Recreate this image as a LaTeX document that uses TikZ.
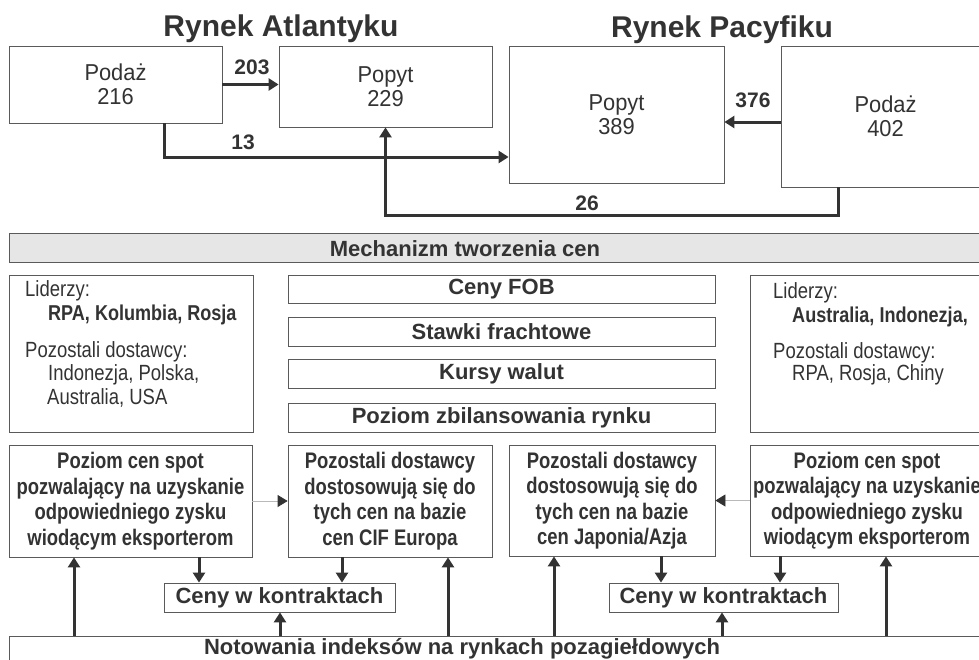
\documentclass[tikz,border=0pt]{standalone}
\usepackage{fontspec}
\setmainfont{Liberation Sans}
\newfontfamily\fN{Liberation Sans}[FakeStretch=0.82]
\newfontfamily\fL{Liberation Sans}[FakeStretch=0.84]
\newfontfamily\fT{Liberation Sans}[FakeStretch=0.95]
\usetikzlibrary{arrows.meta}
\definecolor{ink}{HTML}{333333}
\definecolor{edgec}{HTML}{5A5A5A}
\definecolor{barfill}{HTML}{E6E6E6}
\begin{document}
\begin{tikzpicture}[x=1pt,y=-1pt,
  box/.style={draw=edgec, line width=0.8pt, fill=white, inner sep=0pt, text=ink, align=center},
  arr/.style={draw=ink, line width=3pt, -{Triangle[length=10pt,width=12pt]}},
  thinarr/.style={draw=gray!55, line width=0.8pt, -{Triangle[length=10pt,width=12pt,color=ink,fill=ink]}},
  ttl/.style={text=ink, font=\fontsize{30}{32}\selectfont\bfseries, inner sep=0pt},
  lab/.style={text=ink, font=\fontsize{21}{23}\selectfont\bfseries, inner sep=0pt},
  topf/.style={font=\fT\fontsize{23}{24}\selectfont},
  bigb/.style={font=\fontsize{22}{24}\selectfont\bfseries},
  rowf/.style={font=\fN\fontsize{22.5}{25.5}\selectfont\bfseries},
  lidn/.style={text=ink, font=\fL\fontsize{22}{24}\selectfont, inner sep=0pt, anchor=west},
  lidb/.style={text=ink, font=\fL\fontsize{21.5}{24}\selectfont\bfseries, inner sep=0pt, anchor=west}]
\useasboundingbox (0,0) rectangle (979,659);
\clip (0,0) rectangle (979,659);

% titles
\node[ttl] (tA) at (281,29) {Rynek Atlantyku};
\node[ttl] (tP) at (722,30) {Rynek Pacyfiku};

% top boxes
\node[box, topf, minimum width=213pt, minimum height=77pt] (p216) at (115.5,84.5) {Podaż\\216};
\node[box, topf, minimum width=213pt, minimum height=81pt] (pop229) at (385.5,86.5) {Popyt\\229};
\node[box, topf, minimum width=215pt, minimum height=137pt] (pop389) at (616.5,114.5) {Popyt\\389};
\node[box, topf, minimum width=209pt, minimum height=141pt] (pod402) at (885.5,116.5) {Podaż\\402};

% top connectors
\coordinate (k13) at (164,157);
\coordinate (k376) at (781,122);
\coordinate (k26) at (838,215);
\draw[arr] (p216.east) -- (p216.east -| pop229.west);
\draw[arr] (p216.south -| k13) |- (pop389.west |- k13);
\draw[arr] (pod402.west |- k376) -- (pop389.east |- k376);
\draw[arr] (pod402.south -| k26) |- (pop229.south |- k26) -- (pop229.south);

\node[lab] (l203) at (252,67) {203};
\node[lab] (l13) at (243,142) {13};
\node[lab] (l376) at (753,100) {376};
\node[lab] (l26) at (587,203) {26};

% mechanism bar
\node[box, fill=barfill, minimum width=986pt, minimum height=29pt] (mech) at (502,247.5) {};
\node[bigb, text=ink, inner sep=0pt] (mechT) at (465,248.5) {Mechanizm tworzenia cen};

% left leaders
\node[box, minimum width=244pt, minimum height=157pt] (lidL) at (131,353.5) {};
\node[lidn] (lL1) at (25,291) {Liderzy:};
\node[lidb] (lL2) at (48,315) {RPA, Kolumbia, Rosja};
\node[lidn] (lL3) at (25,352) {Pozostali dostawcy:};
\node[lidn] (lL4) at (48,375) {Indonezja, Polska,};
\node[lidn] (lL5) at (47,398) {Australia, USA};

% center boxes
\node[box, bigb, minimum width=427pt, minimum height=28pt] (fob) at (501.5,289) {Ceny FOB};
\node[box, bigb, minimum width=427pt, minimum height=29pt] (fra) at (501.5,331.5) {Stawki frachtowe};
\node[box, bigb, minimum width=427pt, minimum height=29pt] (kur) at (501.5,373.5) {Kursy walut};
\node[box, bigb, minimum width=427pt, minimum height=29pt] (pzr) at (501.5,417.5) {Poziom zbilansowania rynku};

% right leaders
\node[box, minimum width=250pt, minimum height=157pt] (lidR) at (875,353.5) {};
\node[lidn] (lR1) at (773,293) {Liderzy:};
\node[lidb] (lR2) at (792,317) {Australia, Indonezja,};
\node[lidn] (lR3) at (773,353) {Pozostali dostawcy:};
\node[lidn] (lR4) at (792,375) {RPA, Rosja, Chiny};

% row boxes
\node[box, rowf, minimum width=243pt, minimum height=112pt] (bA) at (130.5,501) {Poziom cen spot\\pozwalający na uzyskanie\\odpowiedniego zysku\\wiodącym eksporterom};
\node[box, rowf, minimum width=204pt, minimum height=112pt] (bB) at (390,501) {Pozostali dostawcy\\dostosowują się do\\tych cen na bazie\\cen CIF Europa};
\node[box, rowf, minimum width=206pt, minimum height=111pt] (bC) at (612,500.5) {Pozostali dostawcy\\dostosowują się do\\tych cen na bazie\\cen Japonia/Azja};
\node[box, rowf, minimum width=234pt, minimum height=111pt] (bD) at (867,500.5) {Poziom cen spot\\pozwalający na uzyskanie\\odpowiedniego zysku\\wiodącym eksporterom};

\draw[thinarr] (bA.east) -- (bB.west);
\draw[thinarr] (bD.west) -- (bC.east);

% contract boxes
\node[box, bigb, minimum width=231pt, minimum height=29pt] (cL) at (279.5,597.5) {Ceny w kontraktach};
\node[box, bigb, minimum width=229pt, minimum height=29pt] (cR) at (723.5,597.5) {Ceny w kontraktach};

% bottom bar
\node[box, minimum width=986pt, minimum height=64pt] (noto) at (502,668) {};
\node[bigb, text=ink, inner sep=0pt] (notoT) at (462,649) {Notowania indeksów na rynkach pozagiełdowych};

% down arrows
\coordinate (xA) at (199,0);
\coordinate (xB) at (342,0);
\coordinate (xC) at (661,0);
\coordinate (xD) at (780,0);
\draw[arr] (bA.south -| xA) -- (cL.north -| xA);
\draw[arr] (bB.south -| xB) -- (cL.north -| xB);
\draw[arr] (bC.south -| xC) -- (cR.north -| xC);
\draw[arr] (bD.south -| xD) -- (cR.north -| xD);

% up arrows
\coordinate (u1) at (74,0);
\coordinate (u2) at (280,0);
\coordinate (u3) at (448,0);
\coordinate (u4) at (554,0);
\coordinate (u5) at (722,0);
\coordinate (u6) at (886,0);
\draw[arr] (noto.north -| u1) -- (bA.south -| u1);
\draw[arr] (noto.north -| u2) -- (cL.south -| u2);
\draw[arr] (noto.north -| u3) -- (bB.south -| u3);
\draw[arr] (noto.north -| u4) -- (bC.south -| u4);
\draw[arr] (noto.north -| u5) -- (cR.south -| u5);
\draw[arr] (noto.north -| u6) -- (bD.south -| u6);
\end{tikzpicture}
\end{document}
